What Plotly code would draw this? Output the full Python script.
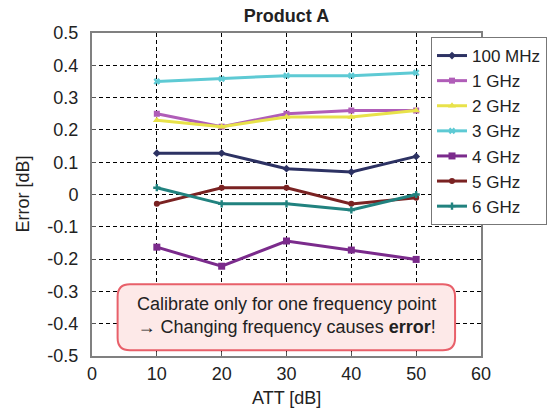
import plotly.graph_objects as go

att = [10, 20, 30, 40, 50]
series_names = ["100 MHz", "1 GHz", "2 GHz", "3 GHz", "4 GHz", "5 GHz", "6 GHz"]
err_100mhz = [0.128, 0.128, 0.080, 0.070, 0.118]
err_1ghz = [0.250, 0.210, 0.250, 0.260, 0.260]
err_2ghz = [0.230, 0.210, 0.240, 0.240, 0.260]
err_3ghz = [0.350, 0.358, 0.368, 0.368, 0.377]
err_4ghz = [-0.163, -0.222, -0.144, -0.172, -0.201]
err_5ghz = [-0.029, 0.021, 0.021, -0.029, -0.010]
err_6ghz = [0.021, -0.029, -0.029, -0.048, 0.000]
y_tickvals = [0.5, 0.4, 0.3, 0.2, 0.1, 0, -0.1, -0.2, -0.3, -0.4, -0.5]
y_ticktext = ["0.5", "0.4", "0.3", "0.2", "0.1", "0", "-0.1", "-0.2", "-0.3", "-0.4", "-0.5"]
x_tickvals = [0, 10, 20, 30, 40, 50, 60]

values = [err_100mhz, err_1ghz, err_2ghz, err_3ghz, err_4ghz, err_5ghz, err_6ghz]
colors = ["#2d3263", "#b05db8", "#e8e24a", "#5ecad4", "#7b2b8c", "#7a2222", "#21827f"]
symbols = ["diamond", "square", "triangle-up", "x", "square", "circle", "cross"]
sizes = [6, 6, 7, 6, 7, 6, 6]

FONT = "Liberation Sans, Arial, sans-serif"
TXT = "#222222"

# plot-area pixel geometry
L, R, T, B = 92, 481, 33, 356
W, H = 551, 414

fig = go.Figure()
for name, vals, c, s, sz in zip(series_names, values, colors, symbols, sizes):
    fig.add_trace(go.Scatter(
        x=att, y=vals, name=name, mode="lines+markers",
        line=dict(color=c, width=3),
        marker=dict(color=c, symbol=s, size=sz),
    ))

# rounded callout box (data coords)
x0, x1, y0, y1 = 3.95, 56.0, -0.482, -0.278
rx, ry = 1.9, 0.038
path = (f"M {x0+rx},{y1} L {x1-rx},{y1} Q {x1},{y1} {x1},{y1-ry} "
        f"L {x1},{y0+ry} Q {x1},{y0} {x1-rx},{y0} L {x0+rx},{y0} "
        f"Q {x0},{y0} {x0},{y0+ry} L {x0},{y1-ry} Q {x0},{y1} {x0+rx},{y1} Z")
fig.add_shape(type="path", path=path, xref="x", yref="y",
              fillcolor="#fde9e8", line=dict(color="#e8606a", width=2), layer="above")
fig.add_annotation(
    x=(x0 + x1) / 2, y=-0.376, xref="x", yref="y", xanchor="center", yanchor="middle",
    text="Calibrate only for one frequency point<br>→ Changing frequency causes <b>error</b>!",
    showarrow=False, font=dict(family=FONT, size=18, color=TXT), align="center",
)

# axis titles (pixel positions converted to paper coords)
def px(xp, yp):
    return (xp - L) / (R - L), (B - yp) / (B - T)

ax_x, ax_y = px(22, (T + B) / 2)
fig.add_annotation(x=ax_x, y=ax_y, xref="paper", yref="paper",
                   xanchor="center", yanchor="middle",
                   text="Error [dB]", textangle=-90, showarrow=False,
                   font=dict(family=FONT, size=18, color=TXT))
bx_x, bx_y = px((L + R) / 2, 398)
fig.add_annotation(x=bx_x, y=bx_y, xref="paper", yref="paper",
                   xanchor="center", yanchor="middle",
                   text="ATT [dB]", showarrow=False,
                   font=dict(family=FONT, size=18, color=TXT))

axis_common = dict(
    showline=True, linecolor="#808080", linewidth=2, mirror=True,
    ticks="inside", ticklen=4, tickcolor="#555555",
    showgrid=True, gridcolor="#000000", gridwidth=1, griddash="4px,3px",
    zeroline=False, automargin=False,
    tickfont=dict(family=FONT, size=18, color=TXT),
)

lx, ly = px(431, 37)
fig.update_layout(
    width=W, height=H, autosize=False,
    margin=dict(l=L, r=W - R, t=T, b=H - B, pad=0, autoexpand=False),
    paper_bgcolor="white", plot_bgcolor="white",
    font=dict(family=FONT, size=18, color=TXT),
    title=dict(text="<b>Product A</b>", x=(L + R) / 2 / W, xanchor="center",
               y=1 - 16 / H, yanchor="middle",
               font=dict(family=FONT, size=18, color=TXT)),
    xaxis=dict(range=[0, 60], tickvals=x_tickvals, **axis_common),
    yaxis=dict(range=[-0.5, 0.5], tickvals=y_tickvals, ticktext=y_ticktext,
               ticklabelstandoff=8, **axis_common),
    legend=dict(x=lx, y=ly, xanchor="left", yanchor="top",
                bgcolor="white", bordercolor="#777777", borderwidth=1,
                font=dict(family=FONT, size=17, color=TXT),
                itemwidth=30, tracegroupgap=0),
    showlegend=True,
)

fig.write_html(
    "out.html",
    config={"responsive": False, "displayModeBar": False},
    post_script="document.body.style.margin='0';document.body.style.overflow='hidden';",
)
